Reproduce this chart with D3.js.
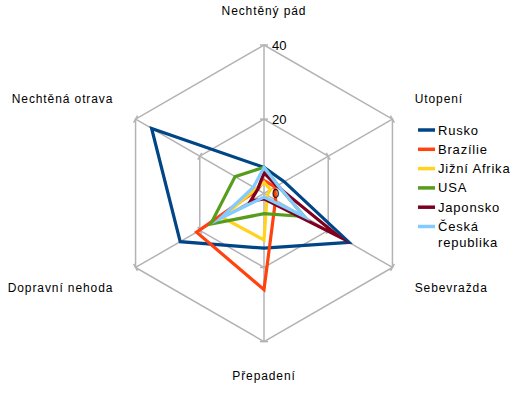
<!DOCTYPE html>
<html>
<head>
<meta charset="utf-8">
<script src="https://cdn.jsdelivr.net/npm/d3@7"></script>
<style>
  body { margin: 0; background: #fff; }
  text { font-family: "Liberation Sans", Arial, sans-serif; fill: #000; }
</style>
</head>
<body>
<div class="chart"></div>
<script>
const width = 526;
const height = 393;
const cx = 264, cy = 193.3, radius = 148.3;

// data
const categories = ["Nechtěný pád", "Utopení", "Sebevražda", "Přepadení", "Dopravní nehoda", "Nechtěná otrava"];
const seriesNames = ["Rusko", "Brazílie", "Jižní Afrika", "USA", "Japonsko", "Česká republika"];
const rusko = [7, 6.3, 26.5, 14.8, 26.1, 35];
const brazilie = [3.5, 3.4, 3.6, 26, 21, 2];
const jizniAfrika = [3, 2, 1, 12.6, 13, 2.5];
const usa = [7, 4.3, 12.5, 5.5, 16.6, 9];
const japonsko = [5.5, 4, 23.4, 1.5, 4.2, 2];
const ceskaRepublika = [7, 4.3, 12.5, 1, 13.7, 3.3];
const ticks = [0, 20, 40];
const colors = ["#004586", "#ff420e", "#ffd320", "#579d1c", "#7e0021", "#83caff"];

const series = [rusko, brazilie, jizniAfrika, usa, japonsko, ceskaRepublika];

const svg = d3.select(".chart")
  .append("svg")
  .attr("width", width)
  .attr("height", height);

const g = svg.append("g")
  .attr("transform", `translate(${cx},${cy})`);

const rScale = d3.scaleLinear().domain([0, 40]).range([0, radius]);
const step = 2 * Math.PI / categories.length;
const ang = i => i * step;
const px = (i, v) => Math.sin(ang(i)) * rScale(v);
const py = (i, v) => -Math.cos(ang(i)) * rScale(v);

// grid rings
ticks.filter(t => t > 0).forEach(t => {
  g.append("path")
    .attr("d", d3.lineRadial()
      .angle((d, i) => ang(i))
      .radius(() => rScale(t))
      .curve(d3.curveLinearClosed)(categories))
    .attr("fill", "none")
    .attr("stroke", "#b3b3b3")
    .attr("stroke-width", 1.5);
});

// radial axes
g.selectAll(".spoke")
  .data(categories)
  .enter()
  .append("line")
  .attr("class", "spoke")
  .attr("x1", 0).attr("y1", 0)
  .attr("x2", (d, i) => px(i, 40))
  .attr("y2", (d, i) => py(i, 40))
  .attr("stroke", "#b3b3b3")
  .attr("stroke-width", 1.5);

// small tick marks on every axis
categories.forEach((c, i) => {
  ticks.filter(t => t > 0).forEach(t => {
    const a = ang(i);
    const ox = Math.cos(a) * 4, oy = Math.sin(a) * 4;
    g.append("line")
      .attr("x1", px(i, t) - ox).attr("y1", py(i, t) - oy)
      .attr("x2", px(i, t) + ox).attr("y2", py(i, t) + oy)
      .attr("stroke", "#b3b3b3")
      .attr("stroke-width", 1.5);
  });
});

// series polygons
const radarLine = d3.lineRadial()
  .angle((d, i) => ang(i))
  .radius(d => rScale(d))
  .curve(d3.curveLinearClosed);

g.selectAll(".series")
  .data(series)
  .enter()
  .append("path")
  .attr("class", "series")
  .attr("d", d => radarLine(d))
  .attr("fill", "none")
  .attr("stroke", (d, i) => colors[i])
  .attr("stroke-width", 3.2)
  .attr("stroke-linejoin", "miter")
  .attr("stroke-miterlimit", 10);

// tick labels on the top axis
g.selectAll(".tick-label")
  .data(ticks)
  .enter()
  .append("text")
  .attr("class", "tick-label")
  .attr("x", 8)
  .attr("y", d => -rScale(d))
  .attr("dy", "0.35em")
  .attr("font-size", "13px")
  .text(d => d);

// category labels
g.selectAll(".cat-label")
  .data(categories)
  .enter()
  .append("text")
  .attr("class", "cat-label")
  .attr("x", (d, i) => Math.sin(ang(i)) * 174)
  .attr("y", (d, i) => -Math.cos(ang(i)) * 183 + (Math.abs(Math.cos(ang(i))) < 0.9 ? Math.sign(-Math.cos(ang(i))) * 3 : 0))
  .attr("dy", "0.35em")
  .attr("text-anchor", (d, i) => {
    const s = Math.sin(ang(i));
    return Math.abs(s) < 0.01 ? "middle" : (s > 0 ? "start" : "end");
  })
  .attr("font-size", "12px")
  .attr("letter-spacing", "0.9px")
  .text(d => d);

// legend
const legend = svg.append("g")
  .attr("transform", "translate(418,130)");

const items = legend.selectAll(".item")
  .data(seriesNames)
  .enter()
  .append("g")
  .attr("class", "item")
  .attr("transform", (d, i) => `translate(0,${i * 19.3})`);

items.append("line")
  .attr("x1", 0).attr("x2", 17)
  .attr("y1", 0).attr("y2", 0)
  .attr("stroke", (d, i) => colors[i])
  .attr("stroke-width", 3.5);

items.append("text")
  .attr("x", 20)
  .attr("y", 0)
  .attr("font-size", "13px")
  .attr("letter-spacing", "0.8px")
  .each(function(d) {
    const words = d.length > 12 ? d.split(" ") : [d];
    const t = d3.select(this);
    words.forEach((w, k) => {
      t.append("tspan")
        .attr("x", 20)
        .attr("dy", k === 0 ? "0.35em" : "16px")
        .text(w);
    });
  });
</script>
</body>
</html>
